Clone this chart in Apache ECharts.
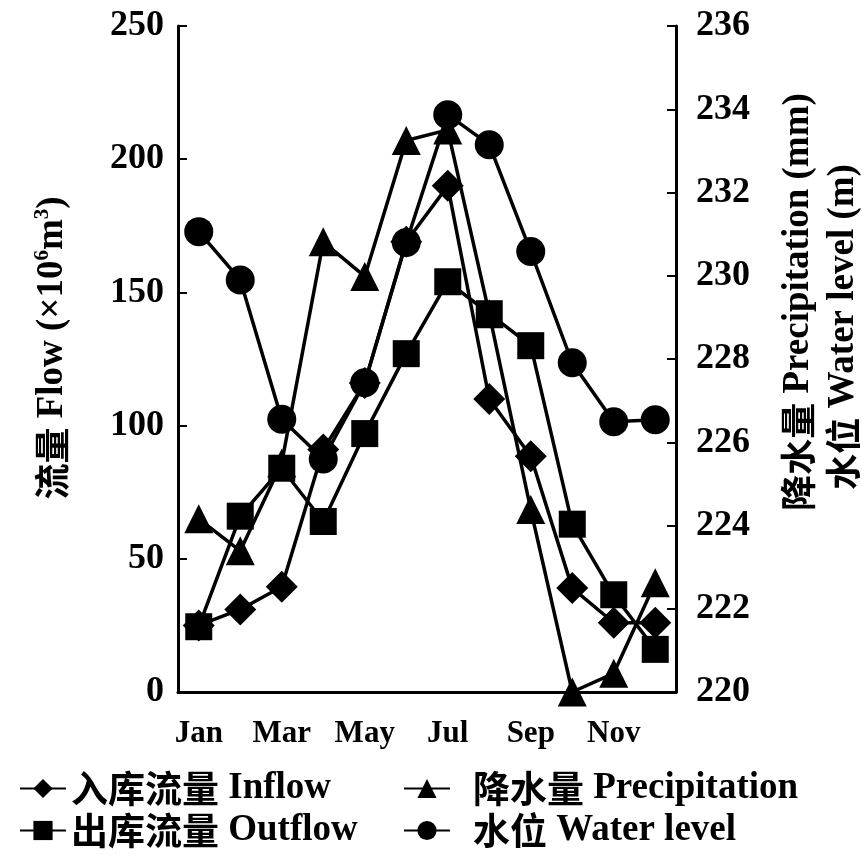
<!DOCTYPE html>
<html>
<head>
<meta charset="utf-8">
<script src="https://cdn.jsdelivr.net/npm/echarts@6/dist/echarts.min.js"></script>
<style>html,body{margin:0;padding:0;background:#fff}#c{width:862px;height:854px}</style>
</head>
<body>
<div id="c"></div>
<script>
const months = ['Jan','Feb','Mar','Apr','May','Jun','Jul','Aug','Sep','Oct','Nov','Dec'];
const inflow = [25, 31, 39.5, 91, 116, 169, 190, 110, 88.5, 39, 26, 26];
const outflow = [24.5, 66, 84, 64, 97, 127, 154, 142, 130, 63, 36.5, 16];
const precipitation = [65, 53, 86, 169, 156, 207, 211, 142, 68.5, 0, 7, 41];
const waterLevel = [231.06, 229.9, 226.55, 225.6, 227.43, 230.8, 233.87, 233.15, 230.58, 227.91, 226.49, 226.54];
const leftTicks = {min: 0, max: 250, interval: 50};
const rightTicks = {min: 220, max: 236, interval: 2};

const FF = "'Liberation Serif', 'Noto Sans CJK SC', serif";
const CJK = "'Noto Sans CJK SC', sans-serif";
const black = '#000';
const chart = echarts.init(document.getElementById('c'), null, {renderer: 'canvas'});

function mkSeries(name, data, symbol, size, yIdx) {
  return {
    name, type: 'line', data, yAxisIndex: yIdx, symbol, symbolSize: size,
    showAllSymbol: true, animation: false,
    lineStyle: {color: black, width: 3.5},
    itemStyle: {color: black, borderColor: black, borderWidth: 0},
    emphasis: {disabled: true}
  };
}
function mkLegend(name, left, top, padLeft) {
  return {
    data: [name], left, top,
    itemWidth: 46, itemHeight: 24, itemGap: 10, selectedMode: false,
    formatter: function (n) {
      const i = n.indexOf(' ');
      return '{c|' + n.slice(0, i) + '}{e|\u00a0' + n.slice(i + 1) + '}';
    },
    textStyle: {
      color: black,
      rich: {
        c: {fontFamily: CJK, fontWeight: 'bold', fontSize: 37, color: black, padding: [0, 0, 0, padLeft]},
        e: {fontFamily: FF, fontWeight: 'bold', fontSize: 37, color: black}
      }
    }
  };
}
chart.setOption({
  animation: false,
  grid: {left: 178, right: 186, top: 26, bottom: 162, containLabel: false},
  xAxis: {
    type: 'category', data: months, boundaryGap: true,
    axisLine: {lineStyle: {color: black, width: 3}},
    axisTick: {inside: true, interval: 0, length: 8, lineStyle: {color: black, width: 2}},
    axisLabel: {interval: 1, margin: 26, color: black, fontFamily: FF, fontWeight: 'bold', fontSize: 31},
    splitLine: {show: false}
  },
  yAxis: [
    {type: 'value', min: leftTicks.min, max: leftTicks.max, interval: leftTicks.interval,
     axisLine: {show: true, lineStyle: {color: black, width: 3}},
     axisTick: {show: true, inside: true, length: 9, lineStyle: {color: black, width: 2}},
     axisLabel: {margin: 14, color: black, fontFamily: FF, fontWeight: 'bold', fontSize: 36},
     splitLine: {show: false}},
    {type: 'value', min: rightTicks.min, max: rightTicks.max, interval: rightTicks.interval, position: 'right',
     axisLine: {show: true, lineStyle: {color: black, width: 3}},
     axisTick: {show: true, inside: true, length: 9, lineStyle: {color: black, width: 2}},
     axisLabel: {margin: 20, color: black, fontFamily: FF, fontWeight: 'bold', fontSize: 36},
     splitLine: {show: false}}
  ],
  legend: [
    mkLegend('入库流量 Inflow', 14, 765, 0),
    mkLegend('降水量 Precipitation', 398, 765, 18),
    mkLegend('出库流量 Outflow', 14, 807, 0),
    mkLegend('水位 Water level', 398, 807, 18)
  ],
  graphic: [
    {type: 'text', x: 52, y: 348, rotation: Math.PI / 2, silent: true,
     style: {text: '{c|流量}{a|\u00a0Flow (×10}{s|6}{a|m}{s|3}{a|)}', align: 'center', verticalAlign: 'middle',
       rich: {a: {fontFamily: FF, fontWeight: 'bold', fontSize: 37, fill: black},
              c: {fontFamily: CJK, fontWeight: 'bold', fontSize: 36, fill: black},
              s: {fontFamily: FF, fontWeight: 'bold', fontSize: 21, fill: black, padding: [0, 0, 18, 0]}}}},
    {type: 'text', x: 798, y: 302, rotation: Math.PI / 2, silent: true,
     style: {text: '{c|降水量}{a|\u00a0Precipitation (mm)}', align: 'center', verticalAlign: 'middle',
       rich: {a: {fontFamily: FF, fontWeight: 'bold', fontSize: 37, fill: black},
              c: {fontFamily: CJK, fontWeight: 'bold', fontSize: 36, fill: black}}}},
    {type: 'text', x: 843, y: 327, rotation: Math.PI / 2, silent: true,
     style: {text: '{c|水位}{a|\u00a0Water level (m)}', align: 'center', verticalAlign: 'middle',
       rich: {a: {fontFamily: FF, fontWeight: 'bold', fontSize: 37, fill: black},
              c: {fontFamily: CJK, fontWeight: 'bold', fontSize: 36, fill: black}}}}
  ],
  series: [
    mkSeries('降水量 Precipitation', precipitation, 'triangle', 29, 0),
    mkSeries('入库流量 Inflow', inflow, 'diamond', 32, 0),
    mkSeries('水位 Water level', waterLevel, 'circle', 29, 1),
    mkSeries('出库流量 Outflow', outflow, 'rect', 27, 0)
  ]
});
</script>
</body>
</html>
